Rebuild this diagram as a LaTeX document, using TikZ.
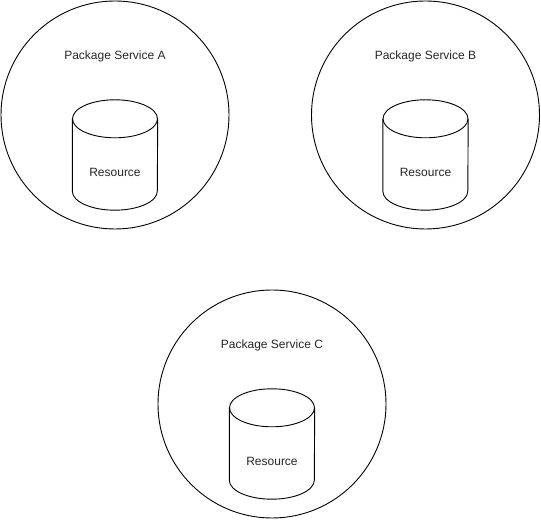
\documentclass[tikz,border=0pt]{standalone}
\usepackage{fontspec}
\setmainfont{Liberation Sans}
\usetikzlibrary{shapes.geometric, positioning}
\tikzstyle{package} = [circle, minimum size=228pt, inner sep=0pt, draw=black, line width=0.9pt]
\tikzstyle{store} = [rectangle, minimum width=85pt, minimum height=110pt, inner sep=0pt]
\tikzstyle{storeline} = [draw=black, line width=0.9pt]
\tikzstyle{caption} = [font=\fontsize{12pt}{14pt}\selectfont, text=black!85]

\begin{document}
\begin{tikzpicture}[x=1pt, y=1pt]
\useasboundingbox (0,0) rectangle (541,521);

\node (pkgA) [package] at (115,406) {};
\node (pkgB) [package] at (425.5,406) {};
\node (pkgC) [package] at (272,117) {};

\node (titleA) [caption, above of=pkgA, node distance=59pt] {Package Service A};
\node (titleB) [caption, above of=pkgB, node distance=59pt] {Package Service B};
\node (titleC) [caption, above of=pkgC, node distance=59pt] {Package Service C};

\node (dbA) [store, below of=pkgA, node distance=40pt] {};
\node (dbB) [store, below of=pkgB, node distance=40pt] {};
\node (dbC) [store, below of=pkgC, node distance=40pt] {};

% cylinder outline: top ellipse, then sides and bottom arc
\foreach \s in {A,B,C} {
  \draw [storeline] ([yshift=-19pt]db\s.north) ellipse [x radius=42.5, y radius=19];
  \draw [storeline] ([yshift=-19pt]db\s.north west) -- ([yshift=19pt]db\s.south west)
    arc [start angle=180, end angle=360, x radius=42.5, y radius=19] -- ([yshift=-19pt]db\s.north east);
}

\node (resA) [caption, below of=pkgA, node distance=57pt] {Resource};
\node (resB) [caption, below of=pkgB, node distance=57pt] {Resource};
\node (resC) [caption, below of=pkgC, node distance=57pt] {Resource};

\end{tikzpicture}
\end{document}
